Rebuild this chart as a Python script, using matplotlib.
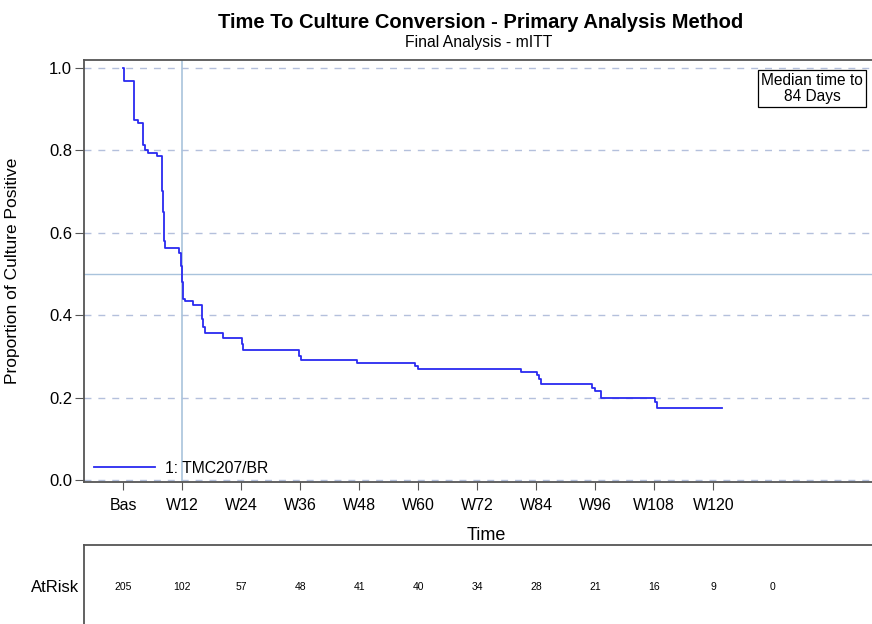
import matplotlib
matplotlib.use("Agg")
import matplotlib.pyplot as plt
from matplotlib.lines import Line2D
from matplotlib.transforms import blended_transform_factory

plt.rcParams['font.family'] = ['Liberation Sans', 'DejaVu Sans']

# KM curve (days, proportion still culture positive)
days = [0, 1, 15, 21, 29, 31, 36, 48, 55, 56, 57, 58, 59, 60, 80, 82, 84, 86, 88,
        100, 112, 114, 117, 142, 169, 171, 250, 253, 333, 416, 420, 567, 589, 592,
        595, 667, 672, 680, 757, 760, 852]
surv = [1.0, 0.967, 0.874, 0.866, 0.812, 0.80, 0.794, 0.785, 0.76, 0.70, 0.65, 0.60,
        0.58, 0.563, 0.55, 0.52, 0.48, 0.44, 0.433, 0.425, 0.39, 0.37, 0.357, 0.345,
        0.33, 0.316, 0.30, 0.291, 0.283, 0.276, 0.269, 0.262, 0.255, 0.245, 0.232,
        0.222, 0.215, 0.20, 0.19, 0.174, 0.174]

tick_days = [0, 84, 168, 252, 336, 420, 504, 588, 672, 756, 840]
tick_labels = ['Bas', 'W12', 'W24', 'W36', 'W48', 'W60', 'W72', 'W84', 'W96', 'W108', 'W120']
risk_days = [0, 84, 168, 252, 336, 420, 504, 588, 672, 756, 840, 924]
at_risk = [205, 102, 57, 48, 41, 40, 34, 28, 21, 16, 9, 0]
median_days = 84

fig = plt.figure(figsize=(8.72, 6.24), dpi=100)
ax = fig.add_axes([84/872, 1 - 482/624, 1.02 - 84/872, (482 - 60)/624])

ax.set_xlim(-55.5, (889 - 123) * 84 / 59)
ax.set_ylim(-0.005, 1.019)

for yv in [0.0, 0.2, 0.4, 0.6, 0.8, 1.0]:
    ax.axhline(yv, color='#b4c0dc', lw=1, ls=(0, (5, 5)), zorder=1)
ax.axhline(0.5, color='#a9c3dc', lw=1, zorder=1)
ax.axvline(median_days, color='#a9c3dc', lw=1.2, zorder=1)

ax.step(days, surv, where='post', color='#2a2af0', lw=1.3, zorder=3)

ax.set_xticks(tick_days)
ax.set_xticklabels(tick_labels, fontsize=11.5)
ax.set_yticks([0.0, 0.2, 0.4, 0.6, 0.8, 1.0])
ax.set_yticklabels(['0.0', '0.2', '0.4', '0.6', '0.8', '1.0'], fontsize=12)
ax.tick_params(axis='x', length=5.5, pad=6, color='#555555')
ax.tick_params(axis='y', length=6.5, pad=2, color='#555555')
for s in ['left', 'top', 'bottom']:
    ax.spines[s].set_color('#555555')
    ax.spines[s].set_linewidth(1.3)
ax.spines['right'].set_visible(False)

ax.set_xlabel('Time', fontsize=13, labelpad=10)
ax.set_ylabel('Proportion of Culture Positive', fontsize=12.5)
ax.yaxis.set_label_coords(-(84 - 20) / 805, 0.5)

leg_handle = Line2D([], [], color='#2a2af0', lw=1.3)
ax.legend([leg_handle], ['1: TMC207/BR'], loc='lower left', frameon=False,
          fontsize=11.3, handlelength=3.9, handletextpad=0.6,
          bbox_to_anchor=(-0.005, -0.019))

ax.text(0.904, 0.932, 'Median time to\n84 Days', transform=ax.transAxes,
        ha='center', va='center', fontsize=11.2, linespacing=1.12,
        bbox=dict(boxstyle='square,pad=0.18', fc='white', ec='black', lw=0.9))

fig.text(481/872, 1 - 22/624, 'Time To Culture Conversion - Primary Analysis Method',
         ha='center', va='center', fontsize=14.5, fontweight='bold')
fig.text(479/872, 1 - 42/624, 'Final Analysis - mITT', ha='center', va='center', fontsize=11.3)

# at-risk panel
ax2 = fig.add_axes([84/872, -0.05, 1.02 - 84/872, 0.05 + 1 - 545/624])
ax2.set_xlim(ax.get_xlim())
ax2.set_ylim(0, 1)
ax2.set_xticks([])
ax2.set_yticks([])
for s in ['left', 'top']:
    ax2.spines[s].set_color('#555555')
    ax2.spines[s].set_linewidth(1.3)
ax2.spines['right'].set_visible(False)
ax2.spines['bottom'].set_visible(False)
tr = blended_transform_factory(ax2.transData, ax2.transAxes)
for d, n in zip(risk_days, at_risk):
    ax2.text(d, (655 - 587) / 110, str(n), transform=tr, ha='center', va='center', fontsize=7.5)
fig.text(79/872, 1 - 587/624, 'AtRisk', ha='right', va='center', fontsize=12)

fig.savefig('out.png', dpi=100)
